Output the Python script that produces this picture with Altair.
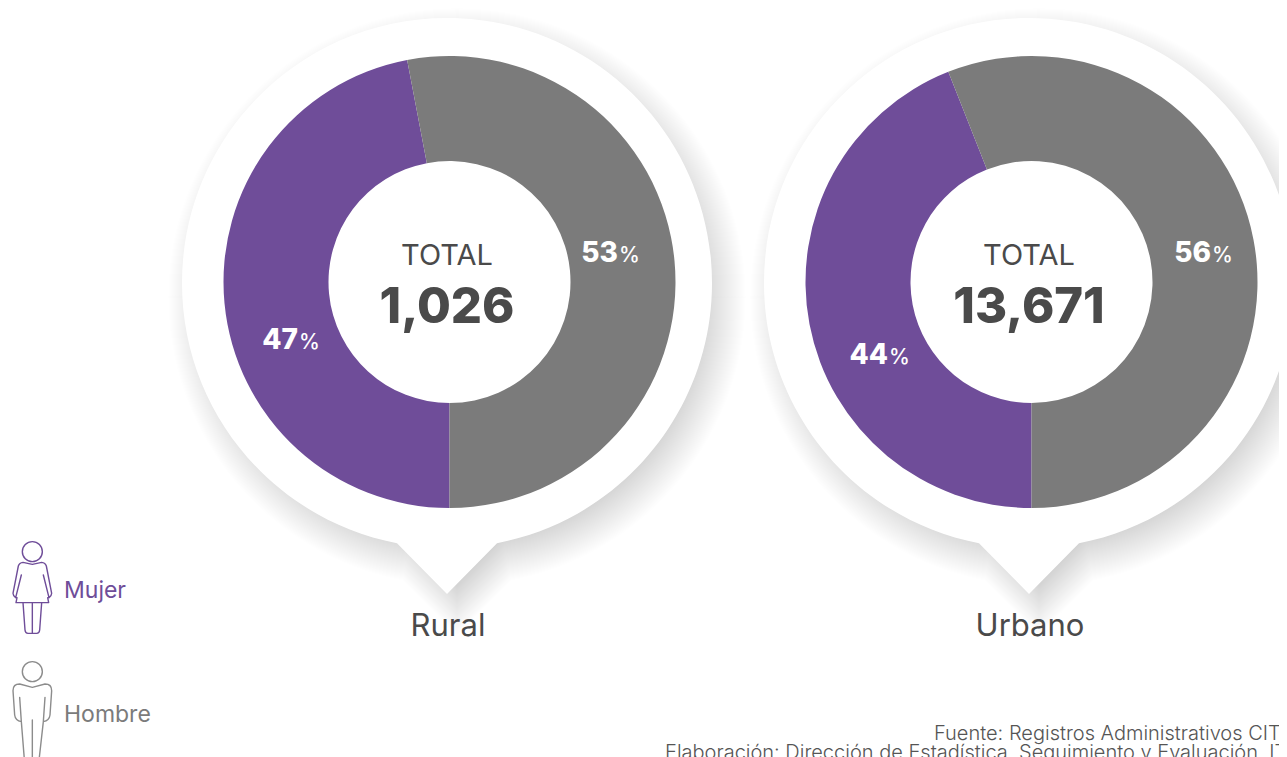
import altair as alt
import pandas as pd

zones = ["Rural", "Urbano"]
totals = ["1,026", "13,671"]
women_pct = [47, 44]
men_pct = [53, 56]
genders = ["Mujer", "Hombre"]
foot_source = "Fuente: Registros Administrativos CITE"
foot_made = "Elaboración: Dirección de Estadística, Seguimiento y Evaluación, ITP"

PURPLE = "#6f4d99"
GRAY = "#7b7b7b"
DARK = "#4a4a4a"
FONT = "Inter"
W, H = 1271, 749
CY = 275
R = 265

rows = []
for z, w, m in zip(zones, women_pct, men_pct):
    rows.append(dict(zona=z, genero="Mujer", start=0, end=w))
    rows.append(dict(zona=z, genero="Hombre", start=w, end=w + m))
arc_df = pd.DataFrame(rows)
zone_df = pd.DataFrame({"zona": zones, "total": totals})

x_enc = alt.X("zona:N", axis=None,
              scale=alt.Scale(type="point", domain=zones, range=[439, 1021], padding=0))
y_mid = alt.value(CY)

BUBBLE = "M -50 260.2 L 0 311 L 50 260.2 A 265 265 0 1 0 -50 260.2 Z"

layers = []
# soft shadow: stack of faint copies of the bubble growing step by step
for d in range(-48, 50, 2):
    s = (R + d / 2) / R
    layers.append(alt.Chart(zone_df).mark_point(
        shape=BUBBLE, size=4 * s * s, filled=True, fill="#000000", strokeWidth=0,
        opacity=0.004, yOffset=14, xOffset=10
    ).encode(x=x_enc, y=y_mid))

layers.append(alt.Chart(zone_df).mark_point(
    shape=BUBBLE, size=4, filled=True, fill="#ffffff", opacity=1
).encode(x=x_enc, y=y_mid))

layers.append(alt.Chart(arc_df).mark_arc(radius=226, radius2=121, xOffset=2.5, yOffset=-1).encode(
    x=x_enc, y=y_mid,
    theta=alt.Theta("start:Q", scale=alt.Scale(domain=[0, 100], range=[3.14159265, 9.42477796])),
    theta2=alt.Theta2("end:Q"),
    fill=alt.Fill("genero:N", legend=None, scale=alt.Scale(domain=genders, range=[PURPLE, GRAY])),
))


def txt(s, x, y, size, color, weight=400, align="left"):
    return alt.Chart(pd.DataFrame({"t": [s]})).mark_text(
        font=FONT, fontSize=size, fontWeight=weight, color=color, align=align, baseline="alphabetic"
    ).encode(text="t:N", x=alt.value(x), y=alt.value(y))


layers.append(alt.Chart(zone_df).mark_text(
    text="TOTAL", font=FONT, fontSize=29, fontWeight=400, color=DARK, baseline="alphabetic"
).encode(x=x_enc, y=alt.value(257)))
layers.append(alt.Chart(zone_df).mark_text(
    font=FONT, fontSize=49, fontWeight=800, color=DARK, baseline="alphabetic"
).encode(x=x_enc, y=alt.value(315), text="total:N"))
layers.append(alt.Chart(zone_df).mark_text(
    font=FONT, fontSize=31, fontWeight=400, color=DARK, baseline="alphabetic", xOffset=1
).encode(x=x_enc, y=alt.value(628), text="zona:N"))

# percentage labels: bold figure + lighter sign
pct_pos = [(610, 254, men_pct[0]), (290, 341, women_pct[0]),
           (1203, 254, men_pct[1]), (880, 356, women_pct[1])]
for px, py, v in pct_pos:
    layers.append(txt(str(v), px, py, 28, "#ffffff", 800, "right"))
    layers.append(txt("%", px + 1, py, 21, "#ffffff", 500, "left"))

# legend
layers.append(txt("Mujer", 56, 590, 23, PURPLE, 400))
layers.append(txt("Hombre", 56, 714, 23, GRAY, 400))

WOMAN = ("M 127 65 A 30 30 0 1 0 67 65 A 30 30 0 1 0 127 65 Z "
         "M 97 103 L 125 97 Q 136 98 139 108 L 155 190 Q 155 197 147 203 L 130 135 "
         "M 147 203 L 143 203 L 146 218 L 48 218 L 51 203 L 47 203 L 64 135 "
         "M 47 203 Q 39 197 39 190 L 55 108 Q 58 98 69 97 L 97 103 "
         "M 125 218 L 119 300 Q 118 310 110 310 L 84 310 Q 76 310 75 300 L 69 218 "
         "M 97 218 L 97 310")
MAN = ("M 127 425 A 30 30 0 1 0 67 425 A 30 30 0 1 0 127 425 Z "
       "M 97 472 L 135 462 Q 155 462 155 482 L 150 555 Q 148 572 130 575 L 135 502 "
       "M 97 472 L 59 462 Q 39 462 39 482 L 44 555 Q 46 572 64 575 L 59 502 "
       "M 130 575 L 116 700 M 64 575 L 74 700 M 97 570 L 97 700")


def icon(path, color, cx, cy):
    # size 4/9 maps the drawn outline at 1/3 scale
    return alt.Chart(pd.DataFrame({"g": [0]})).mark_point(
        shape=path, size=4 / 9, filled=False, stroke=color, strokeWidth=1.4, opacity=1,
        strokeJoin="round", strokeCap="round"
    ).encode(x=alt.value(cx), y=alt.value(cy))


# icon outlines are drawn in 3x coordinates measured from (0, 530) on the page
layers.append(icon(WOMAN, PURPLE, -8, 522))
layers.append(icon(MAN, "#8c8c8c", -8, 522))

layers.append(txt(foot_source, 926, 732, 20, "#555555", 300))
layers.append(txt(foot_made, 657, 751, 20, "#555555", 300))

chart = alt.layer(*layers).properties(
    width=W, height=H, padding=0, autosize=alt.AutoSizeParams(type="none"), background="#ffffff"
).configure_view(stroke=None)

chart.save("out.html", embed_options={"renderer": "svg", "actions": False})
